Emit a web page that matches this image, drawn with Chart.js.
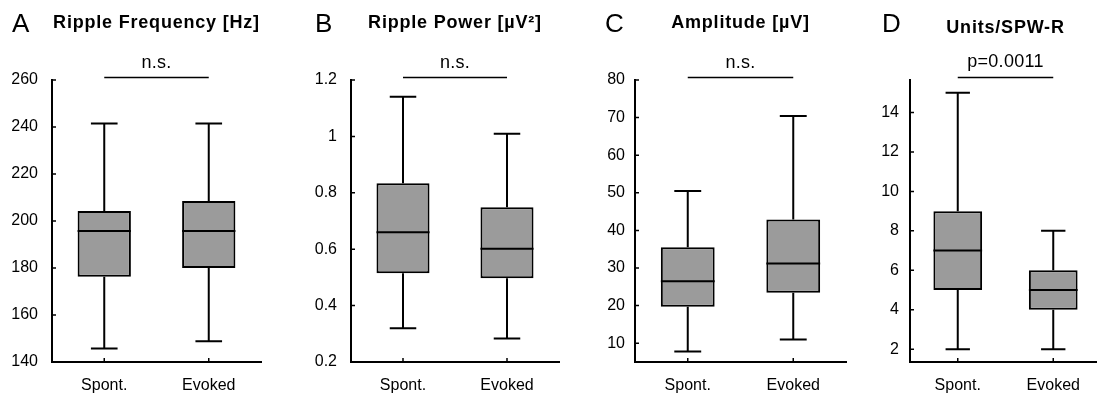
<!DOCTYPE html>
<html>
<head>
<meta charset="utf-8">
<script src="https://cdn.jsdelivr.net/npm/chart.js@4.4.0/dist/chart.umd.min.js"></script>
<style>
  html, body { margin: 0; padding: 0; background: #fff; overflow: hidden; }
  #wrap { position: relative; width: 1097px; height: 397px; }
  canvas { position: absolute; top: 0; }
</style>
</head>
<body>
<div id="wrap">
  <canvas id="chartA"></canvas>
  <canvas id="chartB"></canvas>
  <canvas id="chartC"></canvas>
  <canvas id="chartD"></canvas>
</div>
<script>
const groups = ['Spont.', 'Evoked'];

// A - ripple frequency (Hz)
const freqMin = [145.7, 148.8];
const freqQ1 = [176.3, 180.0];
const freqMed = [195.7, 195.7];
const freqQ3 = [204.3, 208.5];
const freqMax = [241.5, 241.5];
const freqTicks = [140, 160, 180, 200, 220, 240, 260];

// B - ripple power
const powerMin = [0.32, 0.283];
const powerQ1 = [0.515, 0.497];
const powerMed = [0.66, 0.602];
const powerQ3 = [0.834, 0.749];
const powerMax = [1.141, 1.009];
const powerTicks = [0.2, 0.4, 0.6, 0.8, 1, 1.2];

// C - amplitude
const ampMin = [7.8, 11.0];
const ampQ1 = [19.7, 23.4];
const ampMed = [26.5, 31.2];
const ampQ3 = [35.5, 42.9];
const ampMax = [50.5, 70.4];
const ampTicks = [10, 20, 30, 40, 50, 60, 70, 80];

// D - units per SPW-R
const unitsMin = [2, 2];
const unitsQ1 = [5, 4];
const unitsMed = [7, 5];
const unitsQ3 = [9, 6];
const unitsMax = [15, 8];
const unitsTicks = [2, 4, 6, 8, 10, 12, 14];

const AXIS_W = 52;
const FONT = '"Liberation Sans", Arial, sans-serif';

const panels = [
  { id: 'chartA', letter: 'A', title: 'Ripple Frequency [Hz]', sig: 'n.s.', left: 52, right: 261,
    letterX: 12, titleY: 28, sigY: 68, tickPad: 14, yMin: 140, yMax: 260, ticks: freqTicks,
    stats: [freqMin, freqQ1, freqMed, freqQ3, freqMax] },
  { id: 'chartB', letter: 'B', title: 'Ripple Power [\u00b5V\u00b2]', sig: 'n.s.', left: 351, right: 559,
    letterX: 315, titleY: 28, sigY: 68, tickPad: 14, yMin: 0.2, yMax: 1.2, ticks: powerTicks,
    stats: [powerMin, powerQ1, powerMed, powerQ3, powerMax] },
  { id: 'chartC', letter: 'C', title: 'Amplitude [\u00b5V]', sig: 'n.s.', left: 635, right: 846,
    letterX: 605, titleY: 28, sigY: 68, tickPad: 10, yMin: 5, yMax: 80, ticks: ampTicks,
    stats: [ampMin, ampQ1, ampMed, ampQ3, ampMax] },
  { id: 'chartD', letter: 'D', title: 'Units/SPW-R', sig: 'p=0.0011', left: 910, right: 1101,
    letterX: 882, titleY: 33, sigY: 67, tickPad: 11, yMin: 1.35, yMax: 15.65, ticks: unitsTicks,
    stats: [unitsMin, unitsQ1, unitsMed, unitsQ3, unitsMax] }
];

// whiskers, median, inward ticks, labels and significance bar
const boxExtras = {
  id: 'boxExtras',
  afterDatasetsDraw(chart, args, opts) {
    const p = opts.panel;
    const ctx = chart.ctx;
    const y = chart.scales.y;
    const meta = chart.getDatasetMeta(0);
    const [mins, q1s, meds, q3s, maxs] = p.stats;
    ctx.save();
    ctx.strokeStyle = '#000';
    ctx.lineWidth = 2;
    meta.data.forEach((bar, i) => {
      const x = bar.x, w = bar.width;
      ctx.beginPath();
      ctx.moveTo(x, y.getPixelForValue(maxs[i]));
      ctx.lineTo(x, y.getPixelForValue(q3s[i]));
      ctx.moveTo(x, y.getPixelForValue(q1s[i]));
      ctx.lineTo(x, y.getPixelForValue(mins[i]));
      ctx.moveTo(x - w / 4, y.getPixelForValue(maxs[i]));
      ctx.lineTo(x + w / 4, y.getPixelForValue(maxs[i]));
      ctx.moveTo(x - w / 4, y.getPixelForValue(mins[i]));
      ctx.lineTo(x + w / 4, y.getPixelForValue(mins[i]));
      ctx.moveTo(x - w / 2, y.getPixelForValue(meds[i]));
      ctx.lineTo(x + w / 2, y.getPixelForValue(meds[i]));
      ctx.stroke();
    });
    ctx.restore();
  },
  afterDraw(chart, args, opts) {
    const p = opts.panel;
    const ctx = chart.ctx;
    const area = chart.chartArea;
    const xs = chart.scales.x, ys = chart.scales.y;
    const offX = p.left - AXIS_W;
    ctx.save();
    ctx.strokeStyle = '#000';
    ctx.fillStyle = '#000';
    // inward tick marks
    ctx.lineWidth = 1.5;
    ctx.beginPath();
    ys.ticks.forEach(t => {
      const py = ys.getPixelForValue(t.value);
      ctx.moveTo(area.left, py);
      ctx.lineTo(area.left + 4, py);
    });
    groups.forEach((g, i) => {
      const px = xs.getPixelForValue(i);
      ctx.moveTo(px, area.bottom);
      ctx.lineTo(px, area.bottom - 4);
    });
    ctx.stroke();
    // panel letter
    ctx.textBaseline = 'alphabetic';
    ctx.textAlign = 'left';
    ctx.font = '26px ' + FONT;
    ctx.fillText(p.letter, p.letterX - offX, 32);
    // title
    ctx.textAlign = 'center';
    ctx.font = 'bold 18px ' + FONT;
    ctx.letterSpacing = '0.8px';
    ctx.fillText(p.title, (area.left + area.right) / 2, p.titleY);
    // significance bar
    const x0 = xs.getPixelForValue(0), x1 = xs.getPixelForValue(1);
    ctx.lineWidth = 1.5;
    ctx.beginPath();
    ctx.moveTo(x0, 77.5);
    ctx.lineTo(x1, 77.5);
    ctx.stroke();
    ctx.font = '18px ' + FONT;
    ctx.letterSpacing = '0.3px';
    ctx.fillText(p.sig, (x0 + x1) / 2, p.sigY);
    ctx.restore();
  }
};

panels.forEach(p => {
  const canvas = document.getElementById(p.id);
  const w = (p.right - p.left) + AXIS_W + 6;
  canvas.width = w;
  canvas.height = 397;
  canvas.style.left = (p.left - AXIS_W) + 'px';
  canvas.style.width = w + 'px';
  canvas.style.height = '397px';

  const [mins, q1s, meds, q3s, maxs] = p.stats;
  new Chart(canvas.getContext('2d'), {
    type: 'bar',
    data: {
      labels: groups,
      datasets: [{
        data: groups.map((g, i) => [q1s[i], q3s[i]]),
        backgroundColor: '#9b9b9b',
        borderColor: '#000',
        borderWidth: 2,
        borderSkipped: false,
        barPercentage: 0.51,
        categoryPercentage: 1
      }]
    },
    options: {
      responsive: false,
      animation: false,
      layout: { padding: { top: 80, right: 6, left: 0, bottom: 0 } },
      plugins: {
        legend: { display: false },
        tooltip: { enabled: false },
        boxExtras: { panel: p }
      },
      scales: {
        x: {
          offset: true,
          grid: { drawOnChartArea: false, drawTicks: false },
          border: { display: true, color: '#000', width: 2 },
          ticks: { color: '#000', font: { family: FONT, size: 16 }, padding: 14, maxRotation: 0 },
          afterFit: s => { s.height = 35; }
        },
        y: {
          min: p.yMin,
          max: p.yMax,
          grid: { drawOnChartArea: false, drawTicks: false },
          border: { display: true, color: '#000', width: 2 },
          ticks: { color: '#000', font: { family: FONT, size: 16 }, padding: p.tickPad,
                   callback: v => String(v) },
          afterBuildTicks: s => { s.ticks = p.ticks.map(v => ({ value: v })); },
          afterFit: s => { s.width = AXIS_W; }
        }
      }
    },
    plugins: [boxExtras]
  });
});
</script>
</body>
</html>
